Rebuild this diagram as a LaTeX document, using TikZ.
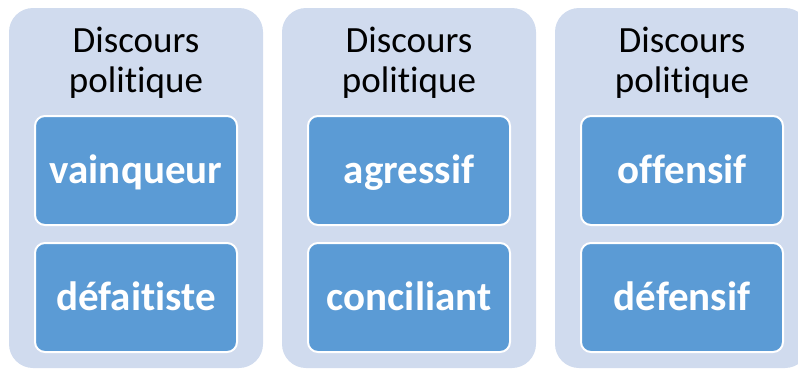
\documentclass[tikz,border=0pt]{standalone}
\usepackage{fontspec}
\setmainfont{Carlito}[Ligatures={NoCommon}]
\definecolor{outerfill}{RGB}{208,219,238}
\definecolor{innerfill}{RGB}{91,155,213}
\begin{document}
\begin{tikzpicture}[x=1pt,y=-1pt,
  outerbox/.style={fill=outerfill, draw=none, rounded corners=24pt, minimum width=254pt, minimum height=360pt, inner sep=0pt},
  innerbox/.style={fill=innerfill, draw=white, line width=2pt, rounded corners=10pt, minimum width=202pt, minimum height=109pt, inner sep=0pt, text height=35pt, text depth=10pt, text=white, font=\fontsize{41}{44}\selectfont\bfseries},
  titletext/.style={align=center, inner sep=0pt, font=\fontsize{37}{40}\selectfont, text=black}]
\useasboundingbox (0,0) rectangle (798,370);
\clip (0,0) rectangle (798,370);
\foreach \i/\cx/\a/\b in {1/136/vainqueur/défaitiste, 2/409/agressif/conciliant, 3/682/offensif/défensif}{
  \node[outerbox] (o\i) at (\cx,188) {};
  \node[titletext, anchor=base] (t\i) at (\cx,92) {Discours\\politique};
  \node[innerbox] (a\i) at (\cx,170.5) {\a};
  \node[innerbox] (b\i) at (\cx,297.5) {\b};
}
\end{tikzpicture}
\end{document}
